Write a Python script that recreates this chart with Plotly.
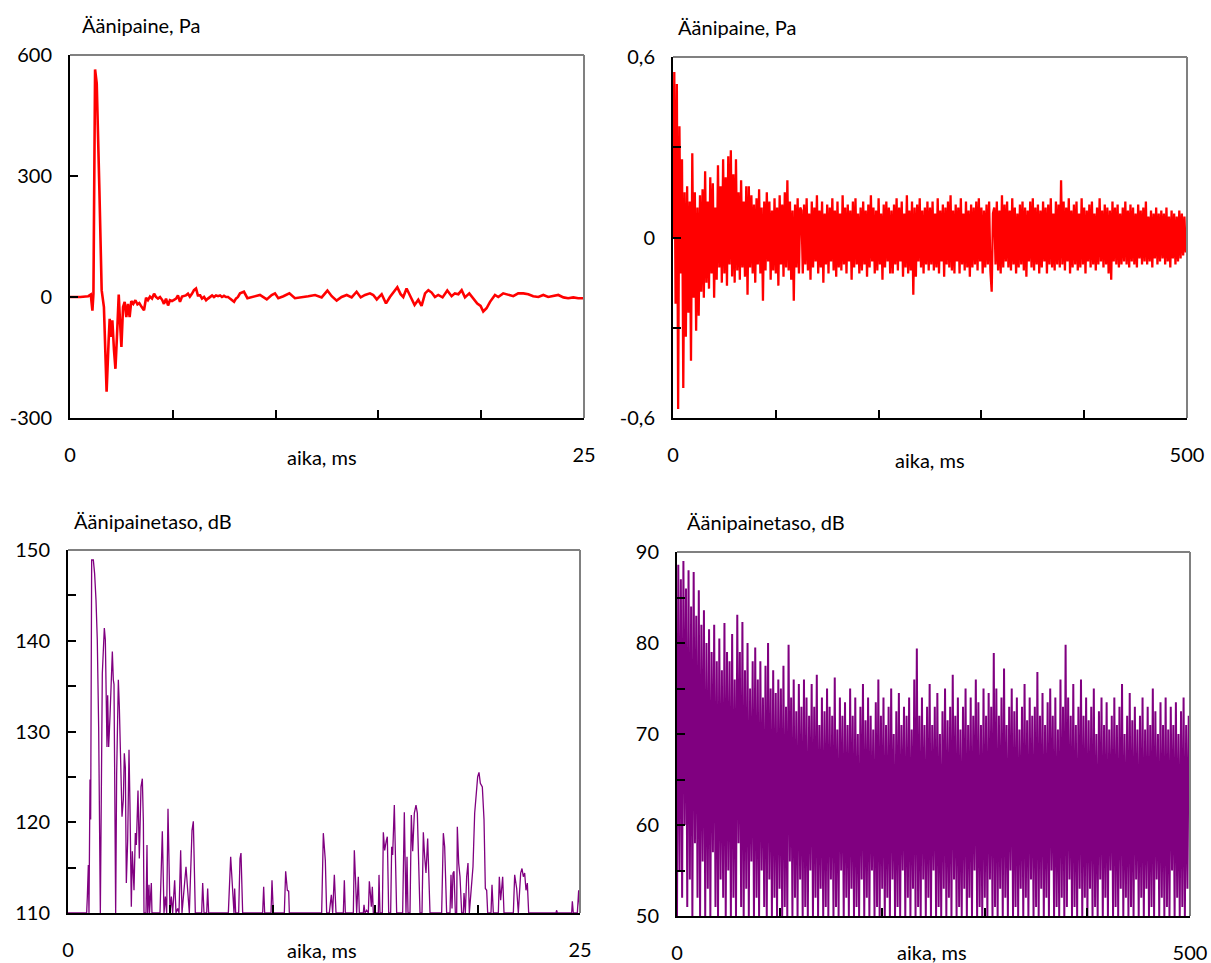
import plotly.graph_objects as go

W, H = 1211, 963
FONT = "Lato"

# ---------------- top-left: sound pressure, 0-25 ms ----------------
tl_t = [0.0, 0.5, 0.89, 1.01, 1.09, 1.14, 1.22, 1.30, 1.43, 1.54, 1.65, 1.78, 1.88, 1.93, 1.99,
        2.06, 2.14, 2.21, 2.29, 2.37, 2.43, 2.50, 2.58, 2.66, 2.74, 2.82, 2.90, 2.98, 3.08, 3.18,
        3.28, 3.37, 3.49, 3.60, 3.70, 3.79, 3.89, 3.99, 4.09, 4.18, 4.28, 4.38, 4.48, 4.57, 4.67,
        4.77, 4.86, 4.96, 5.06, 5.16, 5.25, 5.35, 5.45, 5.54, 5.64, 5.74, 5.83, 5.93, 6.03, 6.13,
        6.22, 6.33, 6.42, 6.52, 6.62, 6.71, 6.81, 6.91, 7.00, 7.10, 7.20, 7.30, 7.39, 7.49, 7.59,
        7.69, 7.78, 7.88, 7.98, 8.07, 8.17,
        8.27, 8.46, 8.63, 8.92, 9.24, 9.57, 9.81, 9.97, 10.13, 10.38, 10.67, 10.94, 11.27, 11.59,
        11.92, 12.24, 12.52, 12.73, 12.97, 13.21, 13.46, 13.70, 13.94, 14.14, 14.35, 14.59, 14.75,
        14.92, 15.16, 15.37, 15.56, 15.76, 15.92, 16.08, 16.21, 16.37, 16.50, 16.63, 16.76, 16.94,
        17.10, 17.27, 17.43, 17.59, 17.75, 17.91, 18.12, 18.35, 18.56, 18.72, 18.89, 19.05, 19.21,
        19.42, 19.62, 19.81, 19.97, 20.10, 20.26, 20.43, 20.67, 20.83, 21.07, 21.32, 21.56, 21.80,
        22.05, 22.29, 22.53, 22.78, 23.02, 23.26, 23.51, 23.75, 24.00, 24.23, 24.48, 24.72, 24.97]
tl_p = [0, 0, 2, 6, -34, 8, 564, 530, 265, 17, -25, -235, -107, -54, -99,
        -58, -132, -178, -91, 6, -58, -124, -25, -12, -50, -17, -50, -10, -17, -8,
        -18, -15, -25, -33, -2, -8, 1, -4, 8, 0, -4, 0, -7, -17, -4,
        -21, -8, -10, -7, -4, 4, -12, 1, 2, 4, 8, 1, 8, 17, 21,
        4, 4, -4, 0, -8, -4, 1, 4, 0, 4, 2, 4, 0, 3, 0,
        0, -4, -8, -12, -4, 0,
        9, 13, -3, 0, 5, -6, 5, 9, -3, 2, 9, -3, -1, 2,
        5, -1, 16, 2, -9, 0, 5, -1, 13, -1, 5, 9, 5,
        -6, 7, -16, 0, 13, 24, 7, 0, 21, 7, -6, -20, -7,
        -22, 9, 17, 11, 0, 5, -1, 16, 2, 9, 7, 17, -1,
        9, -3, -16, -22, -36, -28, -12, 5, 0, 9, 5, 2, 9,
        9, 7, 2, 0, 5, 0, 2, 5, -1, -3, -1, -3, -3]

# ---------------- top-right: sound pressure, 0-500 ms ----------------
tr_dt = 1.25  # ms per sample
tr_p = [
    0.00, 0.55, -0.22, 0.51, -0.57, 0.37, -0.12, 0.26, -0.50, 0.15,
    -0.33, 0.17, -0.25, 0.12, -0.41, 0.28, -0.20, 0.15, -0.31, 0.10,
    -0.26, 0.14, -0.18, 0.16, -0.20, 0.22, -0.15, 0.12, -0.17, 0.20,
    -0.12, 0.18, -0.20, 0.10, -0.14, 0.24, -0.10, 0.17, -0.15, 0.26,
    -0.12, 0.20, -0.16, 0.27, -0.09, 0.29, -0.13, 0.21, -0.15, 0.26,
    -0.11, 0.15, -0.14, 0.19, -0.10, 0.12, -0.13, 0.17, -0.19, 0.17,
    -0.10, 0.14, -0.12, 0.11, -0.15, 0.13, -0.09, 0.16, -0.12, 0.10,
    -0.21, 0.12, -0.11, 0.15, -0.08, 0.12, -0.14, 0.09, -0.11, 0.13,
    -0.12, 0.10, -0.16, 0.14, -0.09, 0.11, -0.13, 0.15, -0.10, 0.19,
    -0.11, 0.12, -0.14, 0.09, -0.21, 0.11, -0.10, 0.13, -0.12, 0.10,
    0.09, -0.12, 0.11, -0.09, 0.13, -0.11, 0.08, -0.14, 0.12, -0.10,
    0.10, -0.08, 0.14, -0.12, 0.09, -0.10, 0.12, -0.15, 0.08, -0.09,
    0.11, -0.12, 0.10, -0.08, 0.13, -0.11, 0.09, -0.13, 0.12, -0.10,
    0.08, -0.11, 0.14, -0.09, 0.10, -0.12, 0.11, -0.08, 0.09, -0.14,
    0.12, -0.10, 0.13, -0.09, 0.08, -0.12, 0.10, -0.11, 0.12, -0.09,
    0.09, -0.13, 0.11, -0.10, 0.14, -0.08, 0.10, -0.12, 0.09, -0.11,
    0.13, -0.09, 0.08, -0.14, 0.11, -0.10, 0.12, -0.08, 0.10, -0.12,
    0.09, -0.12, 0.11, -0.09, 0.13, -0.11, 0.10, -0.08, 0.12, -0.13,
    0.08, -0.10, 0.14, -0.12, 0.09, -0.11, 0.12, -0.19, 0.10, -0.13,
    0.11, -0.08, 0.13, -0.10, 0.09, -0.12, 0.10, -0.09, 0.12, -0.11,
    0.10, -0.09, 0.12, -0.11, 0.08, -0.10, 0.13, -0.12, 0.09, -0.08,
    0.11, -0.13, 0.10, -0.09, 0.12, -0.10, 0.14, -0.11, 0.09, -0.12,
    0.11, -0.08, 0.10, -0.12, 0.13, -0.09, 0.08, -0.11, 0.12, -0.10,
    0.09, -0.13, 0.11, -0.10, 0.10, -0.09, 0.12, -0.11, 0.13, -0.08,
    0.10, -0.12, 0.09, -0.10, 0.11, -0.09, 0.12, -0.11, -0.18, 0.08,
    0.10, -0.09, 0.12, -0.11, 0.09, -0.12, 0.14, -0.10, 0.11, -0.08,
    0.12, -0.10, 0.09, -0.11, 0.13, -0.09, 0.10, -0.12, 0.08, -0.10,
    0.11, -0.09, 0.12, -0.11, 0.10, -0.13, 0.09, -0.08, 0.12, -0.10,
    0.13, -0.11, 0.10, -0.09, 0.11, -0.12, 0.09, -0.10, 0.12, -0.08,
    0.10, -0.12, 0.11, -0.09, 0.13, -0.10, 0.08, -0.11, 0.12, -0.09,
    0.11, -0.10, 0.19, -0.09, 0.12, -0.11, 0.10, -0.08, 0.13, -0.12,
    0.09, -0.10, 0.11, -0.09, 0.12, -0.11, 0.08, -0.10, 0.13, -0.09,
    0.10, -0.12, 0.09, -0.08, 0.11, -0.10, 0.12, -0.09, 0.08, -0.11,
    0.10, -0.09, 0.13, -0.08, 0.09, -0.10, 0.11, -0.09, 0.10, -0.12,
    0.09, -0.14, 0.12, -0.08, 0.10, -0.09, 0.11, -0.10, 0.08, -0.09,
    0.10, -0.08, 0.12, -0.09, 0.09, -0.10, 0.11, -0.08, 0.10, -0.09,
    0.08, -0.10, 0.11, -0.07, 0.09, -0.09, 0.10, -0.08, 0.12, -0.09,
    0.07, -0.08, 0.09, -0.10, 0.08, -0.07, 0.10, -0.09, 0.08, -0.08,
    0.09, -0.07, 0.08, -0.09, 0.10, -0.08, 0.07, -0.10, 0.09, -0.07,
    0.08, -0.09, 0.07, -0.08, 0.09, -0.07, 0.08, -0.06, 0.07, -0.05,
]
tr_t = [i * tr_dt for i in range(len(tr_p))]

# ---------------- bottom-left: sound pressure level, 0-25 ms ----------------
bl_t = [0, 0.911, 0.944, 0.993, 1.025, 1.074, 1.107, 1.156, 1.237, 1.30, 1.367, 1.43, 1.497, 1.546,
        1.579, 1.676, 1.742, 1.774, 1.823, 1.872, 1.904, 1.937, 1.986, 2.050, 2.116, 2.165, 2.213,
        2.246, 2.279, 2.327, 2.376, 2.425, 2.458, 2.507, 2.572, 2.637, 2.702, 2.75, 2.80, 2.848,
        2.914, 2.979, 3.027, 3.092, 3.141, 3.223, 3.288, 3.337, 3.418, 3.483, 3.564, 3.630, 3.68,
        3.711, 3.809, 3.857, 3.89, 3.955, 3.98, 4.069, 4.10, 4.492, 4.606, 4.688, 4.753, 4.818,
        4.883, 4.981, 5.046, 5.111, 5.208, 5.273, 5.355, 5.420, 5.501, 5.566, 5.762, 5.859, 5.924,
        6.055, 6.120, 6.217, 6.527, 6.576, 6.641, 6.771, 6.820, 6.868, 7.829, 7.943, 8.040, 8.105,
        8.138, 8.187, 8.333, 8.398, 8.447, 8.529, 9.505, 9.554, 9.603, 9.912, 9.961, 10.026,
        10.563, 10.628, 10.710, 10.775, 10.807, 12.386, 12.467, 12.565, 12.630, 12.760, 12.793,
        12.858, 12.923, 13.005, 13.086, 13.444, 13.493, 13.542, 13.932, 13.981, 14.046, 14.095,
        14.176, 14.225, 14.420, 14.453, 14.502, 14.583, 14.665, 14.714, 14.762, 14.811, 14.860,
        14.909, 15.153, 15.186, 15.234, 15.348, 15.397, 15.462, 15.544, 15.592, 15.658, 15.755,
        15.804, 15.853, 15.934, 16.048, 16.341, 16.422, 16.504, 16.553, 16.602, 16.699, 16.764,
        16.830, 16.911, 16.992, 17.057, 17.188, 17.285, 17.350, 17.415, 17.480, 17.562, 17.676,
        18.245, 18.327, 18.392, 18.489, 18.652, 18.701, 18.750, 18.799, 18.848, 18.913, 18.978,
        19.010, 19.076, 19.141, 19.222, 19.303, 19.336, 19.401, 19.466, 19.531, 19.596, 19.710,
        19.775, 19.857, 19.922, 20.003, 20.068, 20.134, 20.231, 20.313, 20.378, 20.443, 20.492,
        20.654, 20.703, 20.768, 21.012, 21.061, 21.126, 21.175, 21.224, 21.289, 21.745, 21.810,
        21.908, 21.989, 22.038, 22.103, 22.168, 22.233, 22.298, 22.363, 22.428, 22.494, 23.828,
        23.861, 23.893, 24.593, 24.626, 24.674, 24.870, 24.935, 25.0]
bl_db = [110, 110, 111.8, 115.3, 110, 124.7, 120.3, 148.9, 148.9, 147.4, 144.5, 140.1, 130.5, 118.0,
         110, 136.4, 141.2, 141.4, 140.1, 134.6, 128.3, 134.0, 128.3, 131.6, 135.7, 138.8, 135.7,
         135.2, 125.4, 110, 125.4, 134.6, 135.7, 132.7, 125.4, 120.6, 122.5, 127.6, 126.0, 113.3,
         118.0, 128.0, 121.7, 110.7, 116.8, 112.5, 118.8, 117.5, 123.5, 116.0, 123.9, 124.8, 120.0,
         110, 110, 117.5, 110, 113.1, 110, 113.3, 110, 110, 119.0, 110, 111.8, 110,
         121.5, 110, 111.8, 110, 113.6, 110, 110.5, 110, 116.9, 110, 115.1, 112.5, 110,
         119.1, 120.1, 110, 110, 113.3, 110, 110, 112.7, 110, 110, 116.2, 112.5, 110,
         112.7, 110, 110, 116.0, 116.6, 110, 110, 112.9, 110, 110, 113.6, 110,
         110, 114.6, 112.5, 112.4, 110, 110, 118.8, 115.8, 110, 110, 110.7,
         112.0, 110, 114.2, 110, 110, 113.6, 110, 110, 116.9, 113.3, 110,
         114.0, 110, 110, 110.9, 110, 110.3, 110, 113.5, 112.2, 110.7, 112.9,
         110, 110, 114.2, 110, 110, 118.9, 116.9, 118.0, 118.4, 110, 110,
         117.3, 116.4, 121.9, 110, 110, 121.1, 110, 116.2, 110, 110, 120.8,
         116.8, 121.0, 121.9, 121.0, 110, 110, 118.9, 116.2, 114.4, 118.2, 110,
         110, 118.8, 117.3, 110, 110, 114.2, 110.5, 114.4, 114.6, 110, 110,
         119.5, 115.5, 114.0, 110, 110, 112.2, 110, 114.0, 115.5, 110, 113.6,
         115.1, 121.0, 123.2, 125.0, 125.5, 124.3, 123.9, 120.3, 112.7, 112.5, 110,
         110, 113.1, 110, 110, 114.0, 111.4, 112.9, 114.0, 110, 110, 114.2,
         112.7, 110, 112.5, 114.4, 114.9, 114.0, 114.4, 112.5, 113.3, 110, 110,
         110.3, 110, 110, 111.3, 110, 110, 112.5, 110]

# ---------------- bottom-right: sound pressure level, 0-500 ms ----------------
br_dt = 1.25  # ms per sample
br_db = [
    50, 88.6, 55, 87, 52, 89, 60, 86, 51, 88, 54, 84, 50, 87.8, 58, 83, 52, 85.8, 50, 82,
    56, 83.6, 50, 80, 53, 81.5, 50, 79, 57, 82, 51, 78, 50, 80.5, 54, 77, 52, 82.2, 50, 79,
    55, 78, 50, 81, 52, 76, 50, 83.1, 58, 79, 51, 82.3, 50, 77, 53, 80, 50, 75, 56, 78,
    50, 79.5, 52, 76, 50, 78, 55, 74, 51, 77.5, 50, 80, 54, 75, 50, 77, 52, 74.5, 50, 76,
    53, 75, 50, 77.5, 51, 73, 50, 79.8, 56, 74, 50, 76, 52, 72.5, 50, 75.5, 54, 73, 50, 76,
    51, 74, 50, 72, 55, 75.5, 50, 73, 52, 76.5, 50, 71, 53, 74, 50, 72.5, 51, 75, 50, 73,
    54, 72, 50, 76.2, 51, 70.5, 50, 74, 55, 72, 50, 73.5, 52, 71, 50, 75, 53, 72, 50, 74,
    51, 70, 50, 73, 54, 75.5, 50, 71.5, 52, 74, 50, 72, 55, 70.5, 50, 73.5, 51, 76, 50, 72,
    53, 74, 50, 71, 52, 73, 50, 75, 54, 70, 50, 72.5, 51, 74.5, 50, 71, 55, 73, 50, 72,
    52, 74, 50, 70.5, 53, 76, 50, 79.4, 51, 72, 50, 74, 54, 71, 50, 73, 52, 75.5, 50, 71,
    55, 73, 50, 74.5, 51, 70, 50, 72.5, 53, 75, 50, 71.5, 52, 73, 50, 76.5, 54, 72, 50, 74,
    51, 70.5, 50, 73, 53, 75, 50, 71, 52, 74, 50, 72, 55, 76, 50, 73.5, 51, 71, 50, 75,
    52, 72, 50, 74.5, 54, 73, 50, 78.9, 51, 75, 50, 72, 53, 74, 50, 77.2, 52, 71, 50, 73,
    55, 75, 50, 72.5, 51, 74, 50, 70.5, 53, 73, 50, 75.5, 52, 71.5, 50, 74, 54, 72, 50, 73,
    51, 76.8, 50, 72, 53, 74.5, 50, 71, 52, 73.5, 50, 75, 55, 72, 50, 74, 51, 70.5, 50, 76,
    52, 73, 50, 79.8, 51, 74, 54, 72, 50, 75.5, 51, 71, 50, 73, 53, 76, 50, 72, 52, 74,
    50, 71.5, 53, 73, 50, 75, 51, 70, 50, 72.5, 54, 74, 50, 71, 52, 73.5, 50, 70.5, 55, 72,
    50, 74, 51, 71, 50, 73, 53, 75.5, 50, 70, 52, 72, 50, 74.5, 51, 71.5, 50, 73, 54, 70.5,
    50, 72, 52, 74, 50, 70.5, 53, 73, 50, 71, 51, 75, 50, 72.5, 54, 70, 50, 73.5, 52, 71,
    50, 74, 51, 70.5, 50, 73, 55, 71, 50, 73.5, 52, 70, 50, 72.5, 51, 74, 50, 71, 53, 72,
]
br_t = [i * br_dt for i in range(len(br_db))]

# tick labels
tl_yticks, tl_ylabels = [-300, 0, 300, 600], ["-300", "0", "300", "600"]
tr_yticks, tr_ylabels = [-0.6, 0, 0.6], ["-0,6", "0", "0,6"]
bl_yticks = [110, 120, 130, 140, 150]
br_yticks = [50, 60, 70, 80, 90]

RED = "#ff0000"
PURPLE = "#800080"


def px_x(px):
    return px / W


def px_y(py):
    return 1 - py / H


# plot areas in pixels: (x0, x1, ytop, ybottom)
boxes = {
    "1": (70, 584, 55, 418),
    "2": (673, 1187, 57, 418),
    "3": (68, 580, 550, 913),
    "4": (677, 1190, 552, 916),
}

fig = go.Figure()
fig.add_trace(go.Scatter(x=tl_t, y=tl_p, mode="lines", line=dict(color=RED, width=2.6),
                         xaxis="x", yaxis="y", showlegend=False))
fig.add_trace(go.Scatter(x=tr_t, y=tr_p, mode="lines", line=dict(color=RED, width=2.3),
                         xaxis="x2", yaxis="y2", showlegend=False))
fig.add_trace(go.Scatter(x=bl_t, y=bl_db, mode="lines", line=dict(color=PURPLE, width=1.3),
                         xaxis="x3", yaxis="y3", showlegend=False))
fig.add_trace(go.Scatter(x=br_t, y=br_db, mode="lines", line=dict(color=PURPLE, width=2),
                         xaxis="x4", yaxis="y4", showlegend=False))

tickfont = dict(family=FONT, size=20, color="black")


def xaxis(key, rng, labels, minor_vals):
    x0, x1, yt, yb = boxes[key]
    return dict(domain=[px_x(x0), px_x(x1)], range=rng, anchor="y" if key == "1" else "y" + key,
                showgrid=False, zeroline=False, showline=True, linecolor="black", linewidth=2,
                tickmode="array", tickvals=rng, ticktext=labels, ticks="inside", ticklen=0,
                tickfont=tickfont, ticklabelstandoff=18, automargin=False,
                minor=dict(tickmode="array", tickvals=minor_vals, ticks="inside", ticklen=8,
                           tickcolor="black", tickwidth=1.5, showgrid=False))


def yaxis(key, rng, tv, tt, minor_vals):
    x0, x1, yt, yb = boxes[key]
    return dict(domain=[px_y(yb), px_y(yt)], range=rng, anchor="x" if key == "1" else "x" + key,
                showgrid=False, zeroline=False, showline=True, linecolor="black", linewidth=2,
                tickmode="array", tickvals=tv, ticktext=tt, ticks="inside", ticklen=8,
                tickcolor="black", tickwidth=1.5, tickfont=tickfont, ticklabelstandoff=12,
                automargin=False,
                minor=dict(tickmode="array", tickvals=minor_vals, ticks="inside", ticklen=8,
                           tickcolor="black", tickwidth=1.5, showgrid=False))


layout = dict(
    width=W, height=H, margin=dict(l=0, r=0, t=0, b=0, autoexpand=False),
    paper_bgcolor="white", plot_bgcolor="white", font=dict(family=FONT, size=20, color="black"),
    xaxis=xaxis("1", [0, 25], ["0", "25"], [5, 10, 15, 20]),
    yaxis=yaxis("1", [-300, 600], tl_yticks, tl_ylabels, []),
    xaxis2=xaxis("2", [0, 500], ["0", "500"], [100, 200, 300, 400]),
    yaxis2=yaxis("2", [-0.6, 0.6], tr_yticks, tr_ylabels, [-0.3, 0.3]),
    xaxis3=xaxis("3", [0, 25], ["0", "25"], [5, 10, 15, 20]),
    yaxis3=yaxis("3", [110, 150], bl_yticks, [str(v) for v in bl_yticks], [115, 125, 135, 145]),
    xaxis4=xaxis("4", [0, 500], ["0", "500"], [100, 200, 300, 400]),
    yaxis4=yaxis("4", [50, 90], br_yticks, [str(v) for v in br_yticks], [55, 65, 75, 85]),
)
fig.update_layout(**layout)

# grey top/right frame lines
shapes = []
for key in boxes:
    xr = "x domain" if key == "1" else f"x{key} domain"
    yr = "y domain" if key == "1" else f"y{key} domain"
    shapes.append(dict(type="line", xref=xr, yref=yr, x0=0, x1=1, y0=1, y1=1,
                       line=dict(color="#808080", width=2)))
    shapes.append(dict(type="line", xref=xr, yref=yr, x0=1, x1=1, y0=0, y1=1,
                       line=dict(color="#808080", width=2)))
fig.update_layout(shapes=shapes)

# axis titles as text
ann = []
def text(s, px, py, anchor="left"):
    ann.append(dict(text=s, x=px_x(px), y=px_y(py), xref="paper", yref="paper",
                    xanchor=anchor, yanchor="middle", showarrow=False,
                    font=dict(family=FONT, size=20, color="black")))

text("Äänipaine, Pa", 80, 25)
text("Äänipaine, Pa", 676, 27)
text("Äänipainetaso, dB", 72, 521)
text("Äänipainetaso, dB", 685, 522)
text("aika, ms", 322, 457, "center")
text("aika, ms", 930, 460, "center")
text("aika, ms", 322, 950, "center")
text("aika, ms", 932, 952, "center")
fig.update_layout(annotations=ann)

fig.write_html(
    "out.html",
    config={"displayModeBar": False},
    post_script="document.body.style.margin='0';document.body.style.overflow='hidden';",
)
